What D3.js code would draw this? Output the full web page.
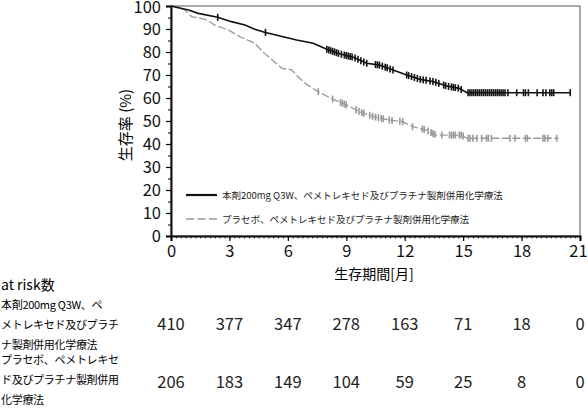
<!DOCTYPE html>
<html>
<head>
<meta charset="utf-8">
<script src="https://cdn.jsdelivr.net/npm/d3@7"></script>
<style>
  body { margin: 0; background: #fff; }
  text { font-family: "Noto Sans CJK JP", "Noto Sans", sans-serif; }
</style>
</head>
<body>
<div id="chart"></div>
<script>
// x ticks (months) and at-risk counts
const months = [0, 3, 6, 9, 12, 15, 18, 21];
const pembroRisk = [410, 377, 347, 278, 163, 71, 18, 0];
const placeboRisk = [206, 183, 149, 104, 59, 25, 8, 0];

// curves: time (months), survival (%)
const pembroTime = [0, 0.9, 1.4, 2.4, 3.1, 3.8, 4.3, 4.8, 5.7, 6.45, 7.3, 8.0, 8.7, 9.36, 10.05, 10.7, 11.4, 12.1, 12.8, 13.5, 14.15, 14.8, 15.2, 20.5];
const pembroSurv = [100, 98.3, 96.8, 95.1, 93.2, 91.7, 89.9, 88.6, 86.7, 85.2, 83.8, 81.2, 79.1, 77.7, 75.1, 74.3, 72.2, 70.0, 68.1, 67.1, 65.2, 64.2, 62.3, 62.3];
const placeboTime = [0, 0.7, 1.06, 1.75, 2.26, 2.94, 3.6, 4.3, 4.8, 5.3, 5.7, 6.2, 6.6, 7.0, 7.65, 8.33, 9.0, 9.7, 10.4, 11.2, 11.9, 12.4, 13.1, 13.6, 14.9, 15.2, 19.9];
const placeboSurv = [100, 98.3, 95.4, 94.2, 91.7, 89.6, 86.4, 83.8, 79.4, 75.8, 72.9, 72.2, 68.6, 65.7, 62.3, 59.4, 57.0, 54.0, 51.9, 50.4, 49.7, 47.5, 46.1, 43.9, 43.9, 42.5, 42.5];

// censor times
const pembroCensor = [2.4, 4.85, 8.0, 8.1, 8.2, 8.3, 8.4, 8.5, 8.6, 8.75, 8.9, 9.0, 9.1, 9.2, 9.3, 9.45, 9.6, 9.75, 9.9, 10.05,
  10.5, 10.6, 10.7, 10.85, 11.0, 11.1, 11.25, 11.4, 12.1, 12.2, 12.35, 12.5, 12.65, 12.8, 12.95, 13.1, 13.3, 13.45, 13.6, 13.75,
  14.0, 14.1, 14.25, 14.4, 14.5, 14.6, 14.75, 14.9, 15.25, 15.35, 15.45, 15.55, 15.65, 15.75, 15.85, 15.95, 16.05, 16.15, 16.25,
  16.35, 16.45, 16.55, 16.65, 16.75, 16.85, 16.95, 17.05, 17.15, 17.3, 17.75, 18.1, 18.2, 18.35, 18.8, 19.1, 19.25, 19.45, 19.55, 19.65, 20.5];
const placeboCensor = [7.56, 8.3, 8.7, 8.8, 8.9, 9.0, 9.5, 9.65, 9.8, 9.9, 10.2, 10.35, 10.5, 10.65, 10.8, 10.9, 11.2, 11.35,
  11.75, 11.9, 12.4, 12.9, 13.0, 13.2, 13.35, 13.45, 13.55, 13.9, 14.3, 14.4, 14.5, 14.6, 14.8, 14.9, 15.0, 15.25, 15.35, 15.5,
  15.7, 15.95, 16.2, 16.3, 16.45, 17.4, 17.66, 18.2, 18.3, 19.1, 19.2, 19.35, 19.8];

const legendLabels = ["本剤200mg Q3W、ペメトレキセド及びプラチナ製剤併用化学療法", "プラセボ、ペメトレキセド及びプラチナ製剤併用化学療法"];
const riskLabels = [["本剤200mg Q3W、ペ", "メトレキセド及びプラチ", "ナ製剤併用化学療法"], ["プラセボ、ペメトレキセ", "ド及びプラチナ製剤併用", "化学療法"]];

const W = 588, H = 412;
const margin = {top: 6, right: 8, bottom: 176, left: 171};
const width = W - margin.left - margin.right,
      height = H - margin.top - margin.bottom;

const svg = d3.select("#chart").append("svg")
    .attr("width", W)
    .attr("height", H);
const g = svg.append("g")
    .attr("transform", `translate(${margin.left},${margin.top})`);

const x = d3.scaleLinear().domain([0, 21]).range([0, width]);
const y = d3.scaleLinear().domain([0, 100]).range([height, 0]);

// frame top/right
g.append("rect")
    .attr("x", 0).attr("y", 0)
    .attr("width", width).attr("height", height)
    .attr("fill", "none").attr("stroke", "#555").attr("stroke-width", 1);

// minor ticks
g.append("g")
    .attr("transform", `translate(0,${height})`)
    .call(d3.axisBottom(x).tickValues(d3.range(0, 21.01, 0.25)).tickSize(2.5).tickFormat(""))
    .call(a => a.select(".domain").remove())
    .call(a => a.selectAll("line").attr("stroke", "#333"));
g.append("g")
    .call(d3.axisLeft(y).tickValues(d3.range(5, 100, 10)).tickSize(3).tickFormat(""))
    .call(a => a.select(".domain").remove());

// major axes
const xAxis = g.append("g")
    .attr("transform", `translate(0,${height})`)
    .call(d3.axisBottom(x).tickValues(months).tickSize(5).tickPadding(4));
const yAxis = g.append("g")
    .call(d3.axisLeft(y).tickValues(d3.range(0, 101, 10)).tickSize(5).tickPadding(5));
[xAxis, yAxis].forEach(a => {
    a.select(".domain").attr("stroke-width", 2).attr("stroke", "#111");
    a.selectAll(".tick line").attr("stroke-width", 1.2);
    a.selectAll("text").attr("font-size", 16.5).attr("fill", "#111")
        .attr("font-family", "'Noto Sans', sans-serif");
});
// keep the end labels inside the picture
yAxis.selectAll(".tick text").filter(d => d === 100).attr("dy", "0.42em");
xAxis.selectAll(".tick text").filter(d => d === 21).attr("dx", "-2");

// axis titles
svg.append("text")
    .attr("x", 374).attr("y", 279)
    .attr("text-anchor", "middle").attr("font-size", 14)
    .text("生存期間[月]");
svg.append("text")
    .attr("transform", "translate(131,125) rotate(-90)")
    .attr("text-anchor", "middle").attr("font-size", 15)
    .text("生存率 (%)");

// curves
function interp(times, surv, t) {
    return d3.scaleLinear().domain(times).range(surv).clamp(true)(t);
}
const series = [
    {time: placeboTime, surv: placeboSurv, censor: placeboCensor, color: "#999", dash: "8,2.5", w: 1.3},
    {time: pembroTime, surv: pembroSurv, censor: pembroCensor, color: "#111", dash: null, w: 1.6}
];
const line = d3.line().x(d => x(d[0])).y(d => y(d[1]));
series.forEach(s => {
    g.append("path")
        .datum(d3.zip(s.time, s.surv))
        .attr("d", line)
        .attr("fill", "none")
        .attr("stroke", s.color)
        .attr("stroke-width", s.w)
        .attr("stroke-dasharray", s.dash);
    g.selectAll(null)
        .data(s.censor)
        .enter()
        .append("line")
        .attr("x1", d => x(d)).attr("x2", d => x(d))
        .attr("y1", d => y(interp(s.time, s.surv, d)) - 3.5)
        .attr("y2", d => y(interp(s.time, s.surv, d)) + 3.5)
        .attr("stroke", s.color)
        .attr("stroke-width", 1.6);
});

// legend
const legend = svg.append("g");
legendLabels.forEach((lab, i) => {
    const ly = 195 + i * 24;
    legend.append("line")
        .attr("x1", 186).attr("x2", 217).attr("y1", ly).attr("y2", ly)
        .attr("stroke", i === 0 ? "#111" : "#999")
        .attr("stroke-width", i === 0 ? 2.2 : 1.3)
        .attr("stroke-dasharray", i === 0 ? null : "8,3.5");
    legend.append("text")
        .attr("x", 222).attr("y", ly + 3.5)
        .attr("font-size", 9.5).attr("fill", "#222")
        .text(lab);
});

// at risk table
svg.append("text")
    .attr("x", 1).attr("y", 290)
    .attr("font-size", 14)
    .text("at risk数");
const rows = [pembroRisk, placeboRisk];
rows.forEach((r, i) => {
    const top = 309 + i * 55;
    riskLabels[i].forEach((l, j) => {
        svg.append("text")
            .attr("x", 1).attr("y", top + j * 20)
            .attr("font-size", 11)
            .attr("letter-spacing", -0.3)
            .text(l);
    });
    svg.selectAll(null)
        .data(r)
        .enter()
        .append("text")
        .attr("x", (d, k) => margin.left + x(months[k]))
        .attr("y", top + 21 + i * 3)
        .attr("text-anchor", "middle")
        .attr("font-size", 16.5)
        .attr("font-family", "'Noto Sans', sans-serif")
        .attr("fill", "#222")
        .text(d => d);
});
</script>
</body>
</html>
